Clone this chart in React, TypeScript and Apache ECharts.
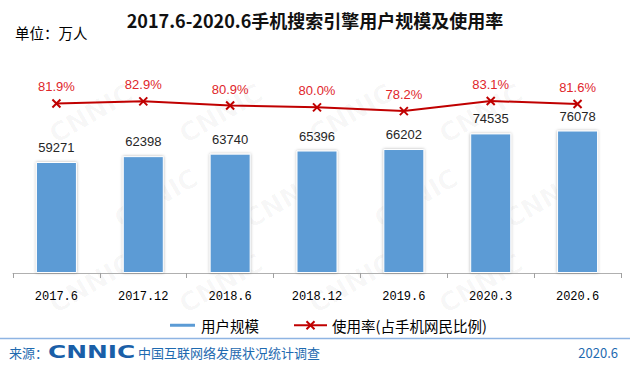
import React, { useEffect, useRef } from "react";
import * as echarts from "echarts";

const categories = ["2017.6", "2017.12", "2018.6", "2018.12", "2019.6", "2020.3", "2020.6"];
const userScale = [59271, 62398, 63740, 65396, 66202, 74535, 76078];
const usageRate = [81.9, 82.9, 80.9, 80.0, 78.2, 83.1, 81.6];
const titleText = "2017.6-2020.6手机搜索引擎用户规模及使用率";
const unitText = "单位：万人";
const barName = "用户规模";
const lineName = "使用率(占手机网民比例)";
const sourceLabel = "来源：";
const sourceOrg = "中国互联网络发展状况统计调查";
const sourceDate = "2020.6";

export default function App() {
  const ref = useRef<HTMLDivElement>(null);
  useEffect(() => {
    if (!ref.current) return;
    const chart = echarts.init(ref.current, null, { renderer: "svg" });
    const watermarks: any[] = [];
    for (let r = 0; r < 6; r++) {
      for (let c = 0; c < 7; c++) {
        const x = c * 130 - 20 + (r % 2) * 65;
        const y = r * 85 + 40;
        if (x < 4 || x + 90 > 626 || y - 52 < 4 || y + 20 > 369) continue;
        watermarks.push({
          type: "text",
          x,
          y,
          rotation: Math.PI / 6,
          z: -10,
          silent: true,
          style: {
            text: "CNNIC",
            fontSize: 26,
            fontWeight: "bold",
            fontFamily: "DejaVu Sans",
            fill: "rgba(0,0,0,0.03)",
          },
        });
      }
    }
    chart.setOption({
      animation: false,
      backgroundColor: "#ffffff",
      grid: { left: 13, right: 9, top: 67, bottom: 100, containLabel: false },
      legend: [
        {
          data: [barName],
          left: 163,
          top: 313,
          itemWidth: 27,
          itemHeight: 5,
          itemGap: 5,
          textStyle: { fontSize: 14.5, color: "#000", fontFamily: "Noto Sans CJK SC" },
        },
        {
          data: [lineName],
          left: 288,
          top: 313,
          itemWidth: 33,
          itemHeight: 10,
          textStyle: { fontSize: 14.5, color: "#000", fontFamily: "Noto Sans CJK SC" },
        },
      ],
      xAxis: {
        type: "category",
        data: categories,
        axisLine: { lineStyle: { color: "#b0b0b0", width: 1 } },
        axisTick: { show: true, length: 5, lineStyle: { color: "#a0a0a0" } },
        axisLabel: {
          margin: 18,
          fontSize: 12,
          color: "#000",
          fontFamily: "Liberation Mono",
        },
      },
      yAxis: [
        { type: "value", min: 0, max: 110000, show: false, splitLine: { show: false } },
        { type: "value", min: 0, max: 99.5, show: false, splitLine: { show: false } },
      ],
      series: [
        {
          name: barName,
          type: "bar",
          data: userScale,
          barWidth: 41,
          yAxisIndex: 0,
          itemStyle: {
            color: "#5b9bd5",
            borderColor: "#ffffff",
            borderWidth: 1,
            shadowColor: "rgba(0,0,0,0.3)",
            shadowBlur: 3,
          },
          label: {
            show: true,
            position: "top",
            distance: 8,
            fontSize: 13,
            color: "#262626",
            fontFamily: "Liberation Sans",
          },
        },
        {
          name: lineName,
          type: "line",
          data: usageRate,
          yAxisIndex: 1,
          symbol: "path://M0,0L10,10M10,0L0,10",
          symbolSize: 8,
          lineStyle: { color: "#c00000", width: 2 },
          itemStyle: { color: "#c00000", borderColor: "#c00000", borderWidth: 2 },
          label: {
            show: true,
            position: "top",
            distance: 5,
            fontSize: 13,
            color: "#e0262b",
            fontFamily: "Liberation Sans",
            formatter: (p: any) => Number(p.value).toFixed(1) + "%",
          },
        },
      ],
      graphic: [
        ...watermarks,
        {
          type: "text",
          x: 315,
          y: 20,
          style: {
            text: titleText,
            fontSize: 18,
            fontWeight: "bold",
            fontFamily: "Noto Sans CJK SC",
            fill: "#111",
            textAlign: "center",
            textVerticalAlign: "middle",
          },
        },
        {
          type: "text",
          x: 15,
          y: 32,
          style: {
            text: unitText,
            fontSize: 14.5,
            fontFamily: "Noto Sans CJK SC",
            fill: "#000",
            textAlign: "left",
            textVerticalAlign: "middle",
          },
        },
        {
          type: "line",
          shape: { x1: 0, y1: 338.5, x2: 630, y2: 338.5 },
          style: { stroke: "#8eb4e3", lineWidth: 1.5 },
        },
        {
          type: "text",
          x: 9,
          y: 352,
          style: {
            text: sourceLabel,
            fontSize: 13,
            fontFamily: "Noto Sans CJK SC",
            fill: "#1e6ab0",
            textAlign: "left",
            textVerticalAlign: "middle",
          },
        },
        {
          type: "text",
          x: 48,
          y: 352,
          scaleX: 1.42,
          style: {
            text: "CNNIC",
            fontSize: 17.5,
            fontWeight: "bold",
            fontFamily: "DejaVu Sans",
            fill: "#1a5fa8",
            textAlign: "left",
            textVerticalAlign: "middle",
          },
        },
        {
          type: "text",
          x: 138,
          y: 352,
          style: {
            text: sourceOrg,
            fontSize: 13,
            fontFamily: "Noto Sans CJK SC",
            fill: "#1e6ab0",
            textAlign: "left",
            textVerticalAlign: "middle",
          },
        },
        {
          type: "text",
          x: 618,
          y: 352,
          style: {
            text: sourceDate,
            fontSize: 13,
            fontFamily: "Noto Sans CJK SC",
            fill: "#1e6ab0",
            textAlign: "right",
            textVerticalAlign: "middle",
          },
        },
      ],
    });
    return () => chart.dispose();
  }, []);
  return (
    <div
      ref={ref}
      style={{ position: "fixed", left: 0, top: 0, width: 630, height: 373, background: "#fff" }}
    />
  );
}
